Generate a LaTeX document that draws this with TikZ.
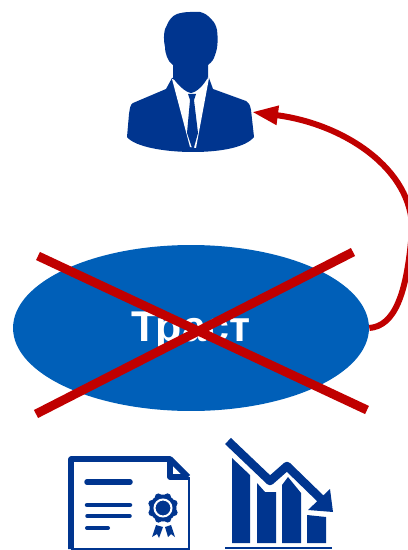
\documentclass[tikz,border=0pt]{standalone}
\usepackage{fontspec}
\setmainfont{Liberation Sans}
\usetikzlibrary{shapes.geometric,arrows.meta,calc}
\definecolor{navy}{HTML}{00358F}
\definecolor{trustblue}{HTML}{005FB8}
\definecolor{crossred}{HTML}{C00000}

\begin{document}
\begin{tikzpicture}[
        x=0.02cm, y=-0.02cm,
        trust/.style={ellipse, fill=trustblue, inner sep=0pt, minimum width=7.12cm, minimum height=3.32cm},
        trustlabel/.style={inner sep=0pt, text=white, font=\bfseries\fontsize{24.5}{24.5}\selectfont},
        cross/.style={crossred, line width=0.18cm},
        link/.style={crossred, line width=0.12cm, -{Triangle[length=0.52cm,width=0.36cm]}},
        solid shape/.style={fill=navy, draw=none},
        outline/.style={navy, line width=0.115cm, line join=round},
        textline/.style={navy, line cap=round}
    ]
        \useasboundingbox (0,0) rectangle (408,550);
        \clip (0,0) rectangle (408,550);

        % Nodes
        \node[trust] (trust) at (191,328) {};
        \node[trustlabel] (trusttext) at (191,331) {Траст};
        \coordinate (person) at (252,112);
        \coordinate (bend) at (412,230);

        % Cross
        \coordinate (c1) at (38,256);
        \coordinate (c2) at (367,410);
        \coordinate (c3) at (36,414);
        \coordinate (c4) at (353,252);
        \draw[cross] (c1) -- (c2);
        \draw[cross] (c3) -- (c4);

        % Connection
        \draw[link] (trust.east) .. controls (394,326) and (407,296) .. (bend)
            .. controls (413,170) and (345,124) .. (person);

        % Person
        \fill[solid shape] (172,78) -- (166,89) -- (133,103) .. controls (130,105) and (130,108) .. (129,114)
            -- (127,137) .. controls (135,147) and (165,152) .. (193,152)
            .. controls (222,152) and (246,147) .. (254,137) -- (251,110)
            .. controls (250,104) and (248,102) .. (246,101) -- (213,89) -- (209,78) -- cycle;
        \fill[white] (172,79) -- (190,147) -- (196,148) -- (209,78) -- (190,85) -- cycle;
        \fill[solid shape] (188,94) -- (196,94) -- (194,100) -- (198,133) -- (193,151) -- (187,133) -- (190,100) -- cycle;
        \fill[solid shape] (190,12) .. controls (185,12) and (180,13) .. (177,14)
            .. controls (172,16) and (169,20) .. (167,25)
            .. controls (164,29) and (163,38) .. (165,47)
            .. controls (165,51) and (166,54) .. (167,57)
            .. controls (168,60) and (170,63) .. (173,65) -- (173,78)
            .. controls (178,85) and (185,92) .. (191,93)
            .. controls (197,92) and (204,85) .. (208,77) -- (208,65)
            .. controls (212,62) and (214,59) .. (215,55)
            .. controls (218,48) and (218,38) .. (217,30)
            .. controls (216,25) and (214,22) .. (212,20)
            .. controls (208,15) and (204,13) .. (200,12) -- cycle;

        % Certificate
        \draw[outline] (71,549) -- (71,459) -- (170,459) -- (188,477);
        \draw[outline] (170,459) -- (170,477) -- (188,477);
        \draw[navy, line width=0.055cm] (189,477) -- (189,549) -- (71,549);
        \draw[textline, line width=0.11cm] (87,482) -- (130,482);
        \draw[textline, line width=0.09cm] (87,505) -- (130,505);
        \draw[textline, line width=0.07cm] (87,516) -- (130,516);
        \draw[textline, line width=0.08cm] (87,528) -- (108,528);
        \foreach \a in {0,45,...,315}
            \fill[solid shape] ($(163,508)+(\a+22:12)$) circle (3.5);
        \fill[solid shape] (163,508) circle (13.5);
        \draw[white, line width=0.04cm] (163,508) circle (8.5);
        \fill[solid shape] (156,525) -- (152,537) -- (157,534) -- (159,538) -- (163,527) -- cycle;
        \fill[solid shape] (165,527) -- (168,537) -- (171,534) -- (175,537) -- (171,525) -- cycle;

        % Chart
        \fill[solid shape] (232,458) -- (250,475) -- (250,543) -- (232,543) -- cycle;
        \fill[solid shape] (257,483) -- (265,492) -- (276,492) -- (276,543) -- (257,543) -- cycle;
        \fill[solid shape] (282,485) -- (288,477) -- (301,493) -- (301,543) -- (282,543) -- cycle;
        \fill[solid shape] (307,515) -- (326,517) -- (326,543) -- (307,543) -- cycle;
        \draw[navy, line width=0.05cm] (225,548) -- (332,548);
        \draw[navy, line width=0.17cm, line join=round] (228,441) -- (270,481) -- (287,466) -- (322,500);
        \fill[solid shape] (330,489) -- (333,512) -- (308,510) -- cycle;
    \end{tikzpicture}
\end{document}
